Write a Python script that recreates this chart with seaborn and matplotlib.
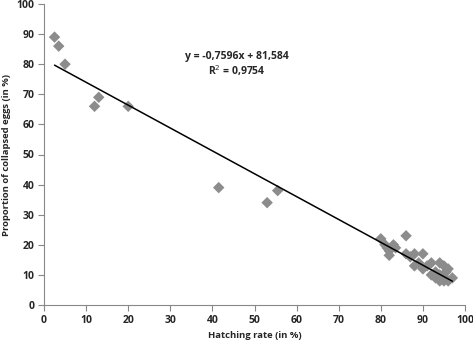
import matplotlib
matplotlib.use("Agg")
import matplotlib.pyplot as plt
import seaborn as sns
import numpy as np
import pandas as pd

hatching = [2.5, 3.5, 5.0, 12.0, 13.0, 20.0, 41.5, 53.0, 55.5,
            80.0, 81.0, 81.5, 82.0, 82.0, 83.0, 83.5, 86.0, 86.0, 87.0,
            88.0, 88.0, 89.0, 90.0, 90.0, 91.0, 92.0, 92.0, 93.0, 93.0,
            94.0, 94.0, 95.0, 95.0, 95.0, 96.0, 96.0, 97.0, 94.0, 95.5]
collapsed = [89.0, 86.0, 80.0, 66.0, 69.0, 66.0, 39.0, 34.0, 38.0,
             22.0, 20.0, 19.0, 16.5, 18.0, 20.0, 19.0, 23.0, 17.0, 16.0,
             17.0, 13.0, 14.0, 17.0, 12.0, 13.0, 14.0, 10.0, 11.0, 9.0,
             14.0, 10.0, 13.0, 8.0, 9.0, 12.0, 8.0, 9.0, 8.0, 11.0]
slope = -0.7596
intercept = 81.584
eq_text = "y = -0,7596x + 81,584"
r2_text = "R$^2$ = 0,9754"
x_ticks = list(range(0, 101, 10))
y_ticks = list(range(0, 101, 10))

df = pd.DataFrame({"x": hatching, "y": collapsed})

sns.set_theme(style="white")
plt.rcParams['font.family'] = ['Open Sans', 'DejaVu Sans']

fig = plt.figure(figsize=(4.73, 3.46), dpi=100)
ax = fig.add_axes([44/473, 1-305/346, (465-44)/473, (305-4)/346])

sns.scatterplot(data=df, x="x", y="y", marker="D", s=34, color="#8c8c8c",
                edgecolor="none", ax=ax, zorder=2)
xl = np.array([min(hatching), max(hatching)])
ax.plot(xl, slope*xl + intercept, color="black", lw=1.1, zorder=3)

ax.set_xlim(0, 100)
ax.set_ylim(0, 100)
ax.set_xticks(x_ticks)
ax.set_yticks(y_ticks)
ax.tick_params(axis="both", which="both", direction="out", length=4, width=0.8,
               color="#888888", labelsize=7.5, pad=3, bottom=True, left=True)
for lab in ax.get_xticklabels() + ax.get_yticklabels():
    lab.set_fontweight("bold")
for s in ["top", "right"]:
    ax.spines[s].set_visible(False)
for s in ["left", "bottom"]:
    ax.spines[s].set_color("#888888")
    ax.spines[s].set_linewidth(0.8)

ax.set_xlabel("Hatching rate (in %)", fontsize=6.8, fontweight="bold")
ax.set_ylabel("Proportion of collapsed eggs (in %)", fontsize=6.8, fontweight="bold")
ax.xaxis.set_label_coords(0.5, -0.086)
ax.yaxis.set_label_coords(-0.078, 0.5)

ax.text(45.8, 82.5, eq_text, ha="center", va="center", fontsize=7.5, fontweight="bold")
ax.text(45.8, 78.0, r2_text, ha="center", va="center", fontsize=7.5, fontweight="bold")

fig.savefig("out.png", dpi=100)
